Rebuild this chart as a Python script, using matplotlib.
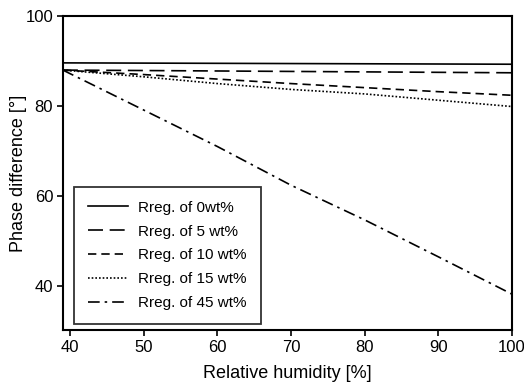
import numpy as np
from matplotlib import pyplot as plt

plt.rcParams['font.family'] = ['Liberation Sans', 'DejaVu Sans']

humidity = [39, 50, 60, 70, 80, 90, 100]
rreg_0 = [89.6, 89.55, 89.5, 89.45, 89.4, 89.35, 89.3]
rreg_5 = [88.0, 87.9, 87.8, 87.7, 87.6, 87.5, 87.4]
rreg_10 = [88.0, 87.0, 86.0, 85.0, 84.1, 83.2, 82.4]
rreg_15 = [88.0, 86.5, 85.0, 83.7, 82.7, 81.3, 79.9]
rreg_45 = [88.0, 79.1, 71.0, 62.4, 54.7, 46.5, 38.2]

labels = ["Rreg. of 0wt%", "Rreg. of 5 wt%", "Rreg. of 10 wt%",
          "Rreg. of 15 wt%", "Rreg. of 45 wt%"]
series = [rreg_0, rreg_5, rreg_10, rreg_15, rreg_45]
styles = ['-', (0, (9, 4)), (0, (5, 3)), (0, (1, 1.2)), (0, (7, 3, 1.5, 3))]

fig = plt.figure(figsize=(5.24, 3.83), dpi=100)
ax = fig.add_axes([0.120, 0.138, 0.857, 0.820])

for y, lab, ls in zip(series, labels, styles):
    ax.plot(humidity, y, color='black', linestyle=ls, linewidth=1.2, label=lab)

ax.set_xlim(39, 100)
ax.set_ylim(30.2, 100)
ax.set_xticks([40, 50, 60, 70, 80, 90, 100])
ax.set_yticks([40, 60, 80, 100])
ax.tick_params(direction='out', length=4, width=1.2, labelsize=12, pad=3)
for s in ax.spines.values():
    s.set_linewidth(1.5)

ax.set_xlabel("Relative humidity [%]", fontsize=13, labelpad=7)
ax.set_ylabel("Phase difference [°]", fontsize=13, labelpad=-1)

leg = ax.legend(loc='lower left', bbox_to_anchor=(0.008, -0.005), fontsize=11,
                frameon=True, fancybox=False, edgecolor='black',
                handlelength=2.6, handletextpad=0.7, labelspacing=0.65,
                borderpad=0.9)
leg.get_frame().set_linewidth(1.3)

plt.savefig("out.png", dpi=100)
